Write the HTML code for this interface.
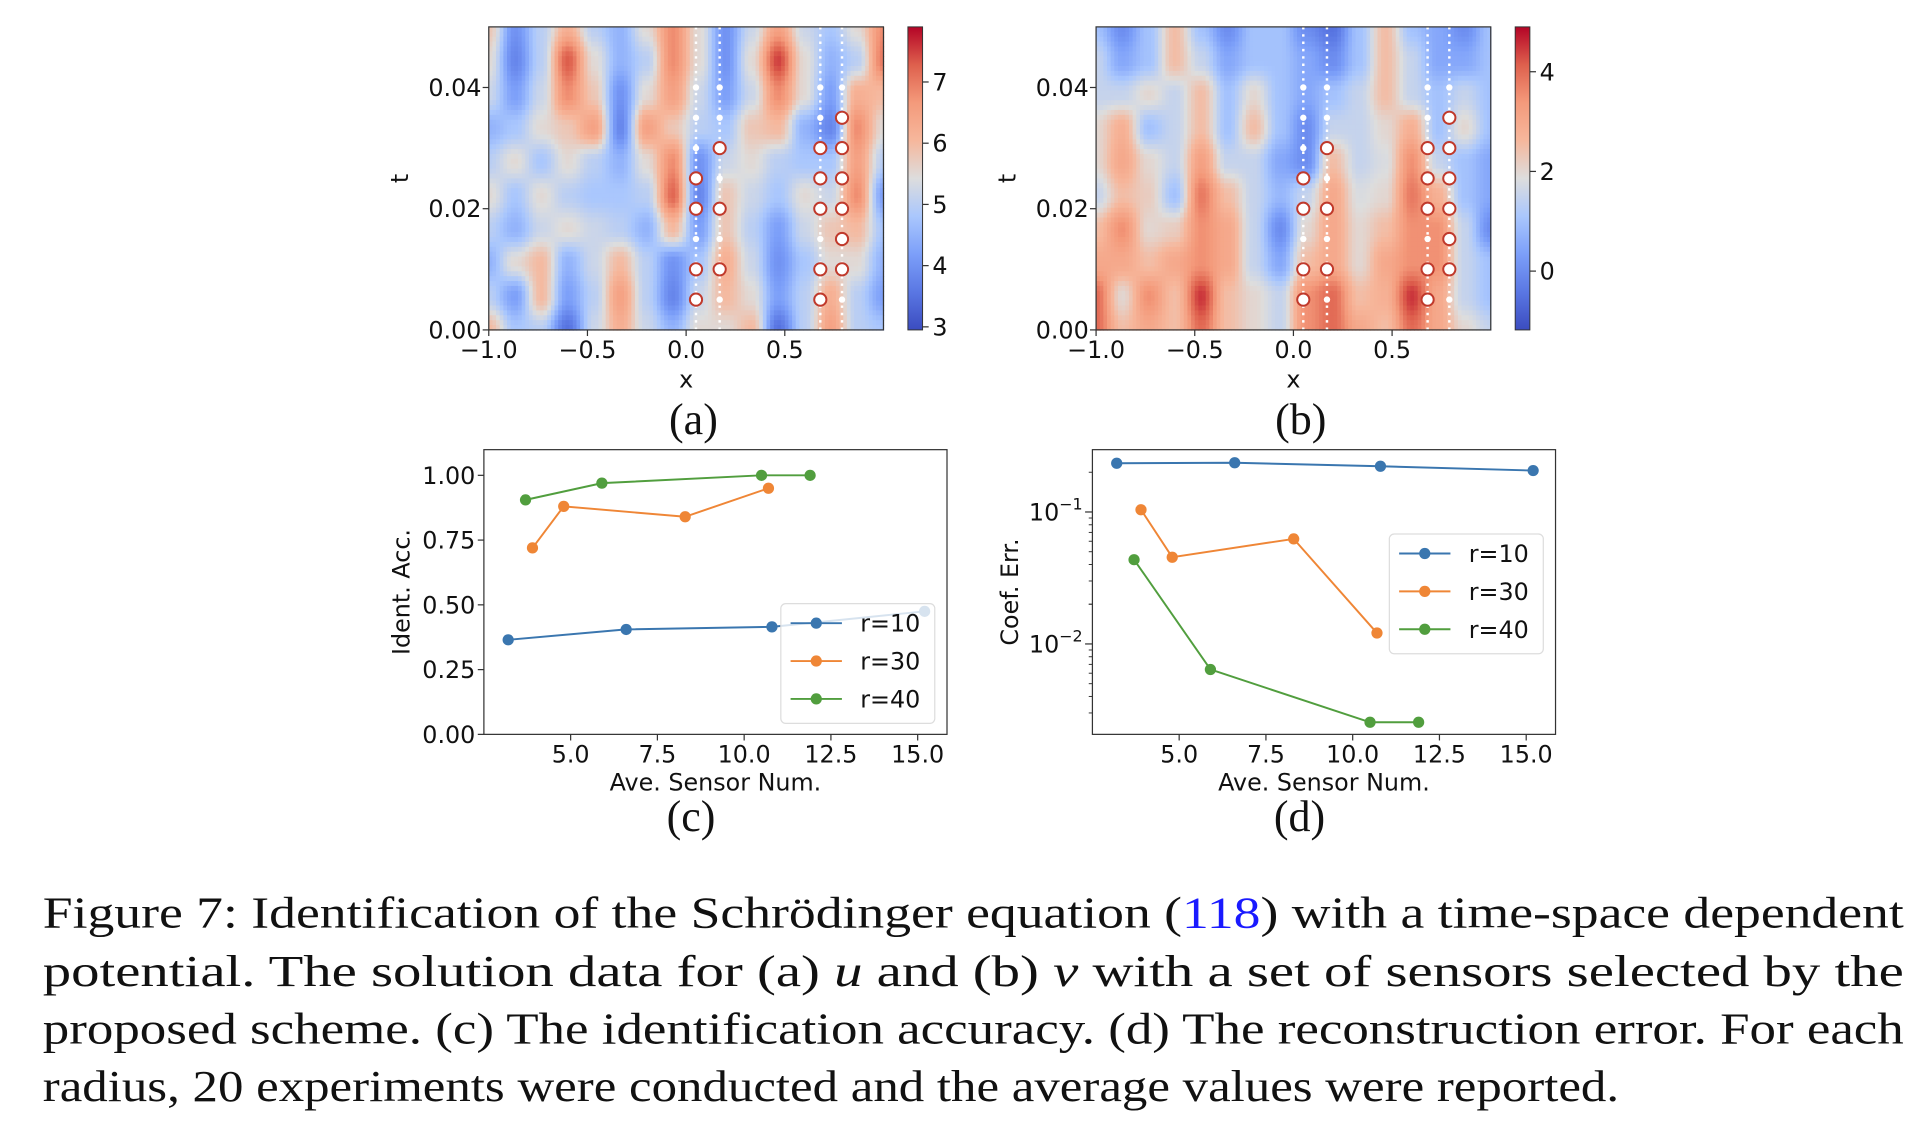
<!DOCTYPE html>
<html><head><meta charset="utf-8">
<style>
html,body{margin:0;padding:0;background:#fff;}
svg{display:block;}
.tk{font-family:"DejaVu Sans","Liberation Sans",sans-serif;font-size:19.5px;fill:#111;}
.cap{font-family:"Liberation Serif","DejaVu Serif",serif;font-size:36px;fill:#111;}
.pl{font-family:"Liberation Serif","DejaVu Serif",serif;font-size:36px;fill:#111;}
</style></head>
<body>
<svg id="fig" width="1916" height="1131" viewBox="0 0 1568 925.6" preserveAspectRatio="none" xmlns="http://www.w3.org/2000/svg">
<defs>
<linearGradient id="cw" x1="0" y1="1" x2="0" y2="0">
<stop offset="0" stop-color="rgb(59,76,192)"/>
<stop offset="0.125" stop-color="rgb(90,119,227)"/>
<stop offset="0.25" stop-color="rgb(124,159,249)"/>
<stop offset="0.375" stop-color="rgb(170,199,253)"/>
<stop offset="0.5" stop-color="rgb(221,221,221)"/>
<stop offset="0.625" stop-color="rgb(246,183,156)"/>
<stop offset="0.75" stop-color="rgb(244,154,123)"/>
<stop offset="0.875" stop-color="rgb(222,96,77)"/>
<stop offset="1" stop-color="rgb(180,4,38)"/>
</linearGradient>
</defs>
<g id="root"></g>
<g>
<text class="cap" x="35" y="759" textLength="1523" lengthAdjust="spacingAndGlyphs">Figure 7:  Identification of the Schrödinger equation (<tspan fill="#1a1aff">118</tspan>) with a time-space dependent</text>
<text class="cap" x="35" y="807" textLength="1523" lengthAdjust="spacingAndGlyphs">potential.  The solution data for (a) <tspan font-style="italic">u</tspan> and (b) <tspan font-style="italic">v</tspan> with a set of sensors selected by the</text>
<text class="cap" x="35" y="854" textLength="1523" lengthAdjust="spacingAndGlyphs">proposed scheme.  (c) The identification accuracy.  (d) The reconstruction error.  For each</text>
<text class="cap" x="35" y="901" textLength="1290" lengthAdjust="spacingAndGlyphs">radius, 20 experiments were conducted and the average values were reported.</text>
</g>
</svg>
<script>
// ---------- data ----------
const gridA = [
[5.8,4.0,5.0,6.2,5.0,4.5,5.5,6.8,5.5,4.0,5.2,6.5,5.2,4.8,5.5,6.8],
[5.5,3.8,5.0,7.3,5.5,4.5,5.0,6.8,5.5,4.0,5.5,7.5,5.5,4.5,5.0,7.0],
[5.2,4.2,5.2,6.8,5.8,4.0,5.5,6.5,5.2,4.2,5.2,6.8,5.5,4.2,6.2,6.0],
[4.5,4.8,5.5,5.8,6.5,3.8,6.5,5.8,5.0,4.8,5.8,6.0,4.5,3.8,6.8,5.5],
[5.0,5.5,4.8,5.5,5.0,4.5,5.5,6.8,4.0,5.2,5.5,5.0,4.8,4.8,6.5,5.0],
[5.5,4.8,5.5,5.0,4.8,4.8,5.0,7.2,3.8,5.8,5.2,4.8,5.5,5.2,6.8,4.2],
[5.0,4.5,5.2,5.5,5.2,5.0,4.5,6.0,4.2,5.8,5.0,4.2,5.2,5.8,6.0,4.8],
[4.5,5.5,6.0,4.5,5.2,6.0,5.0,4.0,4.8,6.2,5.2,4.0,4.8,5.5,5.5,4.5],
[5.0,4.2,6.0,4.2,5.0,6.5,5.0,3.8,5.2,6.0,5.5,4.2,5.0,6.2,5.0,4.2],
[6.0,4.8,5.0,3.5,5.2,6.2,5.2,4.5,5.5,5.5,6.0,3.5,5.0,6.5,5.0,4.8]];
const gridB = [
[1,0,1,2.5,1,0,1,1,0,-0.5,1,2.5,1,0.5,0,1],
[1.5,0.5,1,2.5,1.5,0.5,1,1,0.5,0,1,2.5,1.5,0.5,0.5,1],
[1.5,1.5,2,1.5,2.5,1,2,1,0.5,1,1.5,2.5,1.5,1,1.5,1],
[2,2.8,1,1.5,2.5,1,2.5,1,0,1.5,1.5,2,2.8,1,2,1],
[2,3,2,1.5,3.2,1.5,1.5,0.5,0,2.5,1.5,1.8,3.5,1.5,1,0.5],
[1.5,2.5,2.2,1,3.8,2.5,1.5,0.8,1.5,3,1.8,2,3.8,2.8,1,0.5],
[2.5,3.5,2,2.2,3.5,3,1.5,0,2,3,2,2.5,3.5,3.5,1.5,0],
[3,3,2.5,3,3.5,3,1.5,0.5,2.5,3,2,3,3.5,3.5,1.5,1],
[4,2,3.5,2.5,4.5,2.5,2,1.5,3.5,4,2.5,2.8,4.5,3,1.5,1],
[4,2.5,3,2.5,4,2.5,2,1.5,3.5,4,3,2.5,4,3,2,1.5]];
const sensorX = [0.05, 0.17, 0.68, 0.79];
const sensorT = [[0.025,0.02,0.01,0.005],[0.03,0.02,0.01],[0.03,0.025,0.02,0.01,0.005],[0.035,0.03,0.025,0.02,0.015,0.01]];
const dotT = [0.04,0.035,0.03,0.025,0.02,0.015,0.01,0.005];
const xTicksHeat = [-1.0,-0.5,0.0,0.5];
const xTickLabelsHeat = ["\u22121.0","\u22120.5","0.0","0.5"];
const tTicks = [0.0,0.02,0.04];
const tTickLabels = ["0.00","0.02","0.04"];
const cbTicksA = [3,4,5,6,7];
const cbTicksB = [0,2,4];

const seriesNames = ["r=10","r=30","r=40"];
const seriesColors = ["#3a76af","#ef8636","#519e3e"];
const accX = [[3.2,6.6,10.8,15.2],[3.9,4.8,8.3,10.7],[3.7,5.9,10.5,11.9]];
const accY = [[0.365,0.405,0.415,0.475],[0.72,0.88,0.84,0.95],[0.905,0.97,1.0,1.0]];
const errX = [[3.2,6.6,10.8,15.2],[3.9,4.8,8.3,10.7],[3.7,5.9,10.5,11.9]];
const errY = [[0.234,0.236,0.222,0.206],[0.104,0.0454,0.0625,0.0121],[0.0435,0.0064,0.00255,0.00255]];
const xTicksLine = [5.0,7.5,10.0,12.5,15.0];
const accTicks = [0,0.25,0.5,0.75,1.0];
const accTickLabels = ["0.00","0.25","0.50","0.75","1.00"];

// ---------- helpers ----------
const NS="http://www.w3.org/2000/svg";
const root=document.getElementById('root');
function mk(tag,attrs,parent){const e=document.createElementNS(NS,tag);for(const k in attrs)e.setAttribute(k,attrs[k]);(parent||root).appendChild(e);return e;}
function txt(s,attrs,parent){const e=mk('text',attrs,parent);e.textContent=s;return e;}
const stops=[[59,76,192],[90,119,227],[124,159,249],[170,199,253],[221,221,221],[246,183,156],[244,154,123],[222,96,77],[180,4,38]];
function cw(f){f=Math.max(0,Math.min(1,f));const p=f*8,i=Math.min(7,Math.floor(p)),r=p-i;const a=stops[i],b=stops[i+1];return `rgb(${Math.round(a[0]+(b[0]-a[0])*r)},${Math.round(a[1]+(b[1]-a[1])*r)},${Math.round(a[2]+(b[2]-a[2])*r)})`;}
function sample(g,u,v){
  const rows=g.length,cols=g[0].length;
  const i=Math.min(cols-2,Math.floor(u)),j=Math.min(rows-2,Math.floor(v));
  let fu=u-i,fv=v-j;fu=(1-Math.cos(fu*Math.PI))/2;fv=(1-Math.cos(fv*Math.PI))/2;
  const a=g[j][i]*(1-fu)+g[j][i+1]*fu,b=g[j+1][i]*(1-fu)+g[j+1][i+1]*fu;
  return a*(1-fv)+b*fv;
}

function heatPanel(name,L,grid,vmin,vmax,cbTicks,cbX,label){
  const R=L+323,T=22,B=270;
  const g=mk('g',{});
  const xs=x=>L+(x+1)/2*(R-L);
  const ts=t=>B-t/0.05*(B-T);
  const rows=grid.length,cols=grid[0].length;
  const NX=108,NY=62,cw_=(R-L)/NX,ch=(B-T)/NY;
  const hm=mk('g',{},g);
  for(let a=0;a<NX;a++)for(let b=0;b<NY;b++){
    const v=sample(grid,(a+0.5)/NX*(cols-1),(b+0.5)/NY*(rows-1));
    const r=mk('rect',{x:(L+a*cw_).toFixed(2),y:(T+b*ch).toFixed(2),width:(cw_+0.6).toFixed(2),height:(ch+0.6).toFixed(2),fill:cw((v-vmin)/(vmax-vmin))},hm);
    
    
  }
  sensorX.forEach((sx,k)=>{
    const X=xs(sx);
    const ln=mk('line',{x1:X,y1:T,x2:X,y2:B,stroke:'#fff','stroke-width':2,'stroke-dasharray':'2 4'},g);
    
    
    dotT.forEach(t=>{const d=mk('circle',{cx:X,cy:ts(t),r:2.6,fill:'#fff'},g);
      
      });
    sensorT[k].forEach(t=>{const c=mk('circle',{cx:X,cy:ts(t),r:5,fill:'#fff',stroke:'#c0392b','stroke-width':1.6},g);
      
      });
  });
  mk('rect',{x:L,y:T,width:R-L,height:B-T,fill:'none',stroke:'#333','stroke-width':1},g);
  xTicksHeat.forEach((x,i)=>{mk('line',{x1:xs(x),y1:B,x2:xs(x),y2:B+5,stroke:'#333'},g);
    const t=txt(xTickLabelsHeat[i],{class:'tk',x:xs(x),y:B+23,'text-anchor':'middle'},g);
    });
  tTicks.forEach((v,i)=>{mk('line',{x1:L-5,y1:ts(v),x2:L,y2:ts(v),stroke:'#333'},g);
    const t=txt(tTickLabels[i],{class:'tk',x:L-6,y:ts(v)+7,'text-anchor':'end'},g);
    });
  const xl=txt('x',{class:'tk',x:(L+R)/2,y:B+47,'text-anchor':'middle'},g);
  
  const yl=txt('t',{class:'tk',x:0,y:0,'text-anchor':'middle',transform:`translate(${L-66},${(T+B)/2}) rotate(-90)`},g);
  
  const cb=mk('g',{},g);
  mk('rect',{x:cbX,y:T,width:12,height:B-T,fill:'url(#cw)',stroke:'#333','stroke-width':0.8},cb);
  const cs=v=>B-(v-vmin)/(vmax-vmin)*(B-T);
  cbTicks.forEach(v=>{mk('line',{x1:cbX+12,y1:cs(v),x2:cbX+17,y2:cs(v),stroke:'#333'},cb);
    const t=txt(String(v),{class:'tk',x:cbX+20,y:cs(v)+7},cb);
    });
  const pl=txt(label,{class:'pl',x:(L+R)/2+6,y:355,'text-anchor':'middle'},g);
  
}
heatPanel('heatmap-u',400,gridA,2.95,7.9,cbTicksA,743,'(a)');
heatPanel('heatmap-v',897,gridB,-1.18,4.9,cbTicksB,1240,'(b)');

function linePanel(name,L,xsData,ysData,logY,label,legBox,ylabel){
  const R=L+379,T=368,B=601;
  const g=mk('g',{});
  const xs=x=>L+71+(x-5)*28.4;
  let ys;
  if(logY){ys=v=>419-(Math.log10(v)+1)*108;}else{ys=v=>B-v*212;}
  mk('rect',{x:L,y:T,width:R-L,height:B-T,fill:'#fff',stroke:'#333','stroke-width':1},g);
  xTicksLine.forEach(x=>{mk('line',{x1:xs(x),y1:B,x2:xs(x),y2:B+5,stroke:'#333'},g);
    const t=txt(x.toFixed(1),{class:'tk',x:xs(x),y:B+23,'text-anchor':'middle'},g);
    });
  if(logY){
    [-1,-2].forEach(e=>{const y=ys(Math.pow(10,e));
      mk('line',{x1:L-6,y1:y,x2:L,y2:y,stroke:'#333'},g);
      const t=mk('text',{class:'tk',x:L-8,y:y+7,'text-anchor':'end'},g);
      
      t.appendChild(document.createTextNode('10'));
      const s=document.createElementNS(NS,'tspan');s.setAttribute('dy','-9');s.setAttribute('font-size','13');s.textContent='\u2212'+Math.abs(e);t.appendChild(s);
      [2,3,4,5,6,7,8,9].forEach(m=>{const v=m*Math.pow(10,e-1);const yy=ys(v);if(yy>T&&yy<B)mk('line',{x1:L-3,y1:yy,x2:L,y2:yy,stroke:'#333','stroke-width':0.8},g);});
      [2].forEach(m=>{const yy=ys(m*Math.pow(10,e));if(yy>T&&yy<B)mk('line',{x1:L-3,y1:yy,x2:L,y2:yy,stroke:'#333','stroke-width':0.8},g);});
    });
  } else {
    accTicks.forEach((v,i)=>{mk('line',{x1:L-5,y1:ys(v),x2:L,y2:ys(v),stroke:'#333'},g);
      const t=txt(accTickLabels[i],{class:'tk',x:L-7,y:ys(v)+7,'text-anchor':'end'},g);
      });
  }
  xsData.forEach((xa,k)=>{
    const pts=xa.map((x,i)=>xs(x).toFixed(1)+','+ys(ysData[k][i]).toFixed(1)).join(' ');
    const pl=mk('polyline',{points:pts,fill:'none',stroke:seriesColors[k],'stroke-width':1.6},g);
    
    
    xa.forEach((x,i)=>{const c=mk('circle',{cx:xs(x),cy:ys(ysData[k][i]),r:4.6,fill:seriesColors[k]},g);
      
      });
  });
  const lg=mk('g',{},g);
  mk('rect',{x:legBox[0],y:legBox[1],width:126,height:98,rx:4,fill:'rgba(255,255,255,0.8)',stroke:'#ddd','stroke-width':1},lg);
  seriesNames.forEach((n,k)=>{const y=legBox[1]+16+k*31;
    const e=mk('g',{},lg);
    
    
    mk('line',{x1:legBox[0]+8,y1:y,x2:legBox[0]+50,y2:y,stroke:seriesColors[k],'stroke-width':1.6},e);
    mk('circle',{cx:legBox[0]+29,cy:y,r:4.6,fill:seriesColors[k]},e);
    txt(n,{class:'tk',x:legBox[0]+65,y:y+7},e);
  });
  const xl=txt('Ave. Sensor Num.',{class:'tk',x:(L+R)/2,y:B+46,'text-anchor':'middle'},g);
  
  const yl=txt(ylabel,{class:'tk',x:0,y:0,'text-anchor':'middle',transform:`translate(${L-61},${(T+B)/2}) rotate(-90)`},g);
  
  const p=txt(label,{class:'pl',x:(L+R)/2-20,y:680,'text-anchor':'middle'},g);
  
}
linePanel('accuracy-chart',396,accX,accY,false,'(c)',[639,494],'Ident. Acc.');
linePanel('error-chart',894,errX,errY,true,'(d)',[1137,437],'Coef. Err.');
</script>
</body></html>
